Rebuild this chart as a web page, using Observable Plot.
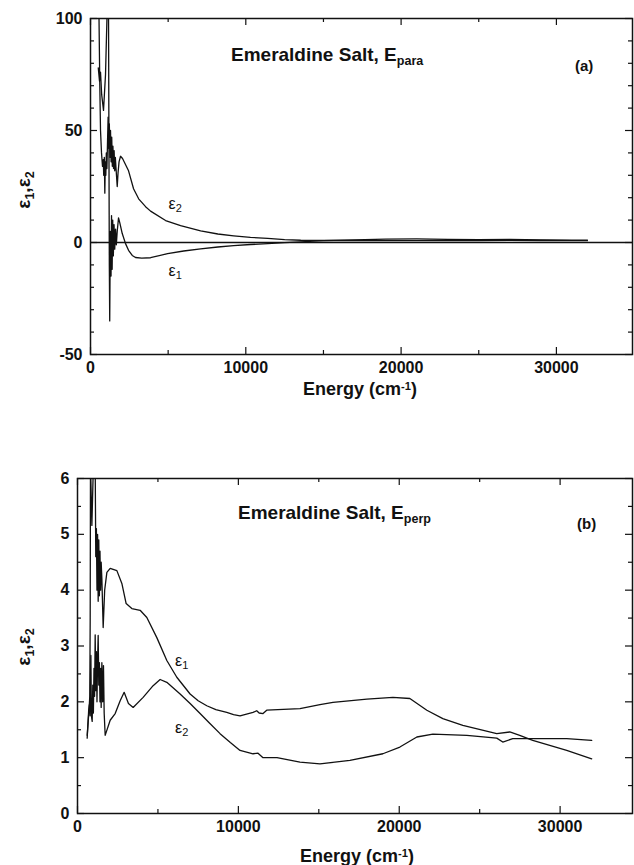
<!DOCTYPE html>
<html><head><meta charset="utf-8">
<script src="https://cdn.jsdelivr.net/npm/d3@7"></script>
<script src="https://cdn.jsdelivr.net/npm/@observablehq/plot@0.6"></script>
<style>
body{margin:0;background:#fff;}
#wrap{position:relative;width:634px;height:865px;overflow:hidden;font-family:"Liberation Sans",Arial,sans-serif;font-weight:bold;color:#111;}
.panel{position:absolute;left:0;}
.lbl{position:absolute;white-space:nowrap;line-height:1;}
.lbl sub{font-size:0.66em;vertical-align:-0.3em;}
.lbl sup{font-size:0.62em;vertical-align:0.45em;}
.rot{transform:translate(-50%,-50%) rotate(-90deg);}
</style></head>
<body><div id="wrap"></div>
<script>
// ---------- Panel (a): E parallel ----------
const energyA1 = [500,580,645,720,838,967,1096,1148,1180,1212,1238,1276,1322,1354,1393,1431,1470,1515,1560,1612,1663,1721,1805,1880,2044,2256,2450,2688,2900,3300,3868,4964,6000,7092,8200,9219,10300,11411,12500,13539,15000,17000,19000,21000,23000,25000,27000,29000,31000,32000];
const eps1A   = [78,72,76,66,59,75,110,130,60,-10,-35,5,-15,12,-12,10,-6,8,-3,6,-1,5,11,9,4,-0.5,-3.5,-5.8,-6.7,-7,-6.8,-5,-3.8,-2.8,-2,-1.4,-0.9,-0.5,-0.1,0.3,0.8,1.2,1.5,1.6,1.4,1.3,1.4,1.2,1.1,1.1];
const energyA2 = [516,548,600,645,709,774,825,851,890,922,954,986,1019,1057,1096,1135,1173,1212,1251,1289,1328,1367,1405,1444,1483,1521,1560,1599,1644,1721,1773,1838,1934,2063,2450,2772,3100,3546,3868,4835,5800,7092,8200,9219,10300,11411,12500,13539,15000,17000,19000,21000,23000,25000,27000,29000,31000,32000];
const eps2A   = [130,100,70,50,40,34,37,30,38,22,36,30,40,33,45,56,42,53,38,50,36,47,34,43,33,41,32,38,33,25,31,36,38.5,37.5,32,24,19.5,16,14,9.8,7.5,5.2,3.8,3.0,2.3,1.8,1.3,1.0,0.9,0.9,0.8,0.8,0.9,0.9,1.0,0.9,0.8,0.8];

// ---------- Panel (b): E perpendicular ----------
const energyB1 = [602,664,727,764,789,807,894,975,1037,1099,1136,1174,1211,1248,1285,1323,1360,1397,1434,1472,1515,1596,1689,1826,2031,2447,2757,3024,3378,3894,4310,4931,5552,6173,6999,7500,8036,8600,9278,9700,10104,10911,11141,11290,11532,11762,13830,15072,15879,17990,19605,20660,21716,22710,23952,26063,26871,27490,28299,30410,31963];
const eps1B   = [1.40,1.65,1.9,2.1,3.5,6.3,5.16,6.1,6.4,6.3,4.6,5.1,4.0,5.0,3.8,4.9,3.9,4.7,4.0,4.5,4.2,3.33,4.0,4.32,4.39,4.35,4.12,3.76,3.67,3.64,3.51,3.15,2.74,2.44,2.14,2.02,1.93,1.86,1.81,1.77,1.75,1.81,1.84,1.80,1.79,1.85,1.88,1.95,1.99,2.05,2.08,2.06,1.85,1.70,1.58,1.43,1.46,1.40,1.31,1.13,0.98];
const energyB2 = [602,652,695,739,776,832,863,913,950,987,1025,1062,1099,1136,1174,1211,1248,1285,1323,1360,1397,1434,1472,1515,1565,1615,1658,1720,2031,2342,2652,2900,3167,3459,4080,4701,5136,5552,6378,7000,7620,8200,8862,9500,10104,10911,11222,11532,12402,13830,15072,16935,18984,20040,21096,22090,24201,26063,26435,27056,28299,30410,31963];
const eps2B   = [1.35,1.62,1.85,1.95,1.75,2.83,1.75,1.65,2.3,1.8,2.6,2.1,3.2,2.2,2.9,2.0,2.75,3.19,2.3,2.7,2.0,2.6,1.9,2.7,2.0,2.65,1.8,1.40,1.67,1.79,2.02,2.17,1.97,1.90,2.08,2.29,2.40,2.35,2.14,1.97,1.79,1.62,1.43,1.27,1.13,1.07,1.08,1.00,1.00,0.92,0.89,0.95,1.07,1.19,1.37,1.42,1.40,1.35,1.28,1.34,1.34,1.34,1.31];

// ---------- Ticks ----------
const xMajor = [0,10000,20000,30000];
const xMinor = [5000,15000,25000];
const yMajorA = [-50,0,50,100];
const yMinorA = d3.range(-50,101,10).filter(v => v % 50 !== 0);
const yMajorB = [0,1,2,3,4,5,6];
const yMinorB = [0.5,1.5,2.5,3.5,4.5,5.5];

// curve labels (data coordinates)
const labelsA = [{t:"ε2", e:5030, v:17.4},{t:"ε1", e:5030, v:-12.5}];
const labelsB = [{t:"ε1", e:6067, v:2.74},{t:"ε2", e:6067, v:1.54}];

function panel({e1x,e1y,e2x,e2y,xDomain,yDomain,yMajor,yMinor,ml,H,labels,zero}) {
  const W = 634, mt = 18, mb = 25, mr = 2;
  const iw = W - ml - mr, ih = H - mt - mb;
  const big = 7, small = 4;
  const svg = Plot.plot({
    width: W, height: H, marginLeft: ml, marginRight: mr, marginTop: mt, marginBottom: mb,
    style: {fontFamily: '"Liberation Sans", Arial, sans-serif', fontSize: "16px", fontWeight: "bold", color: "#111", background: "#fff"},
    x: {domain: xDomain},
    y: {domain: yDomain},
    marks: [
      zero ? Plot.ruleY([0], {stroke: "#111", strokeWidth: 1.3}) : null,
      Plot.line(e1y, {x: (d,i) => e1x[i], y: d => d, stroke: "#111", strokeWidth: 1.3, clip: true}),
      Plot.line(e2y, {x: (d,i) => e2x[i], y: d => d, stroke: "#111", strokeWidth: 1.3, clip: true}),
      Plot.tickX(xMajor, {x: d => d, insetTop: ih - big, stroke: "#111", strokeWidth: 1.2}),
      Plot.tickX(xMajor, {x: d => d, insetBottom: ih - big, stroke: "#111", strokeWidth: 1.2}),
      Plot.tickX(xMinor, {x: d => d, insetTop: ih - small, stroke: "#111", strokeWidth: 1.2}),
      Plot.tickX(xMinor, {x: d => d, insetBottom: ih - small, stroke: "#111", strokeWidth: 1.2}),
      Plot.tickY(yMajor, {y: d => d, insetRight: iw - big, stroke: "#111", strokeWidth: 1.2}),
      Plot.tickY(yMajor, {y: d => d, insetLeft: iw - big, stroke: "#111", strokeWidth: 1.2}),
      Plot.tickY(yMinor, {y: d => d, insetRight: iw - small, stroke: "#111", strokeWidth: 1.2}),
      Plot.tickY(yMinor, {y: d => d, insetLeft: iw - small, stroke: "#111", strokeWidth: 1.2}),
      Plot.axisX({ticks: xMajor, tickSize: 0, tickPadding: 7, tickFormat: d => String(d), label: null}),
      Plot.axisY({ticks: yMajor, tickSize: 0, tickPadding: 8, tickFormat: d => String(d), label: null}),
      Plot.text(labels, {x: "e", y: "v", text: "t", textAnchor: "start", fontSize: 16, fontWeight: "normal", fill: "#111"}),
      Plot.frame({stroke: "#111", strokeWidth: 1.5})
    ]
  });
  d3.select(svg).selectAll("text").each(function() {
    const m = /^ε(\d)$/.exec(this.textContent);
    if (m) {
      const s = d3.select(this);
      s.text("ε");
      s.append("tspan").attr("dy", "0.3em").attr("font-size", "11px").text(m[1]);
    }
  });
  return svg;
}

const wrap = document.getElementById("wrap");
function place(el, top) { el.classList.add("panel"); el.style.top = top + "px"; wrap.appendChild(el); }
function label(html, x, y, size, cls) {
  const d = document.createElement("div");
  d.className = "lbl" + (cls ? " " + cls : "");
  d.innerHTML = html; d.style.left = x + "px"; d.style.top = y + "px"; d.style.fontSize = size + "px";
  wrap.appendChild(d); return d;
}

place(panel({e1x: energyA1, e1y: eps1A, e2x: energyA2, e2y: eps2A, xDomain: [0, 34900], yDomain: [-50, 100],
  yMajor: yMajorA, yMinor: yMinorA, ml: 90, H: 379, labels: labelsA, zero: true}), 0);
place(panel({e1x: energyB1, e1y: eps1B, e2x: energyB2, e2y: eps2B, xDomain: [0, 34500], yDomain: [0, 6],
  yMajor: yMajorB, yMinor: yMinorB, ml: 77, H: 378, labels: labelsB, zero: false}), 460);

label("Emeraldine Salt, E<sub>para</sub>", 231, 45, 19);
label("(a)", 575, 58, 15);
label("Emeraldine Salt, E<sub>perp</sub>", 238, 503, 19);
label("(b)", 577, 516, 15);
label("ε<sub>1</sub>,ε<sub>2</sub>", 25, 190, 19, "rot");
label("ε<sub>1</sub>,ε<sub>2</sub>", 25, 647, 19, "rot");
const xa = label("Energy (cm<sup>-1</sup>)", 360, 380, 18); xa.style.transform = "translateX(-50%)";
const xb = label("Energy (cm<sup>-1</sup>)", 357, 847, 18); xb.style.transform = "translateX(-50%)";
</script>
</body></html>
